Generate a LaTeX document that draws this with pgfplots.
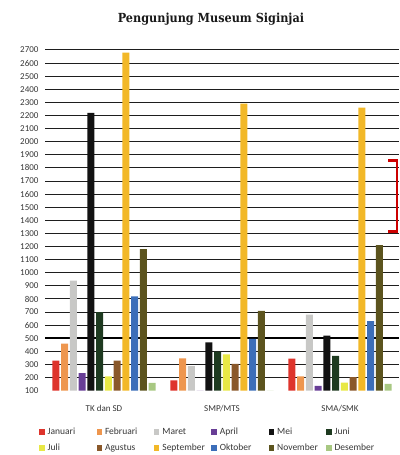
\documentclass[border=0pt]{standalone}
\usepackage{fontspec}
\setmainfont{Carlito}
\newfontfamily\titlefont{DejaVu Serif Condensed}
\usepackage{pgfplots}
\usepackage{pgfplotstable}
\pgfplotsset{compat=1.18}

\definecolor{cJan}{RGB}{222,52,44}
\definecolor{cFeb}{RGB}{238,150,78}
\definecolor{cMar}{RGB}{200,200,198}
\definecolor{cApr}{RGB}{104,62,150}
\definecolor{cMei}{RGB}{18,18,18}
\definecolor{cJun}{RGB}{30,58,32}
\definecolor{cJul}{RGB}{232,232,70}
\definecolor{cAgu}{RGB}{138,88,42}
\definecolor{cSep}{RGB}{242,184,40}
\definecolor{cOkt}{RGB}{60,110,185}
\definecolor{cNov}{RGB}{92,84,30}
\definecolor{cDes}{RGB}{168,200,130}
\definecolor{gridc}{RGB}{30,30,30}
\definecolor{labc}{RGB}{55,55,55}

% visitors per month for each school level (0 = TK dan SD, 1 = SMP/MTS, 2 = SMA/SMK)
\pgfplotstableread{
grp Jan  Feb  Mar  Apr  Mei  Jun  Jul  Agu  Sep  Okt  Nov  Des
0   330  460  940  235  2220 700  210  330  2680 820  1180 160
1   178  347  287  100  469  399  378  305  2290 495  710  100
2   344  209  680  136  520  365  162  204  2260 630  1210 152
}\visitors

\pgfplotsset{
  monthbar/.style n args={2}{ybar, bar width=7pt, bar shift={(#2-5.5)*8.75pt},
    draw=none, fill=#1,
    legend image code/.code={\fill[#1] (0pt,-2.7pt) rectangle (5.4pt,2.7pt);}},
}
\newcommand\lentry[1]{\makebox[47pt][l]{\hspace{2pt}#1}}

\begin{document}
\begin{tikzpicture}
\useasboundingbox (-45pt,-64.3pt) rectangle (354pt,390.7pt);
\begin{axis}[
  at={(0,0)}, anchor=south west,
  scale only axis, width=354pt, height=340.7pt,
  xmin=-0.5, xmax=2.5, ymin=100, ymax=2700,
  axis line style={draw=none},
  xtick={0,1,2}, xticklabels={TK dan SD, SMP/MTS, SMA/SMK},
  ytick={200,300,...,2700},
  extra y ticks={100}, extra y tick style={grid=none},
  major tick length=0pt,
  ymajorgrids, major grid style={gridc, line width=1pt},
  tick label style={font=\fontsize{9}{10}\selectfont, text=labc},
  /pgf/number format/assume math mode=true,
  /pgf/number format/1000 sep={},
  yticklabel style={xshift=-3pt},
  xticklabel style={yshift=-11pt},
  legend columns=6,
  legend cell align=left,
  legend style={at={(rel axis cs:0,0)}, anchor=north west, xshift=-6pt, yshift=-36pt,
    draw=none, fill=none, font=\fontsize{9.5}{11}\selectfont, text=labc,
    row sep=6pt, inner sep=0pt, nodes={inner sep=1pt},
    /tikz/every even column/.append style={column sep=3pt}},
]
\addplot[forget plot, sharp plot, black, line width=1.7pt] coordinates {(-0.5,500) (2.5,500)};
\addplot[monthbar={cJan}{0}]  table[x=grp, y=Jan] {\visitors};
\addplot[monthbar={cFeb}{1}]  table[x=grp, y=Feb] {\visitors};
\addplot[monthbar={cMar}{2}]  table[x=grp, y=Mar] {\visitors};
\addplot[monthbar={cApr}{3}]  table[x=grp, y=Apr] {\visitors};
\addplot[monthbar={cMei}{4}]  table[x=grp, y=Mei] {\visitors};
\addplot[monthbar={cJun}{5}]  table[x=grp, y=Jun] {\visitors};
\addplot[monthbar={cJul}{6}]  table[x=grp, y=Jul] {\visitors};
\addplot[monthbar={cAgu}{7}]  table[x=grp, y=Agu] {\visitors};
\addplot[monthbar={cSep}{8}]  table[x=grp, y=Sep] {\visitors};
\addplot[monthbar={cOkt}{9}]  table[x=grp, y=Okt] {\visitors};
\addplot[monthbar={cNov}{10}] table[x=grp, y=Nov] {\visitors};
\addplot[monthbar={cDes}{11}] table[x=grp, y=Des] {\visitors};
\legend{\lentry{Januari}, \lentry{Februari}, \lentry{Maret}, \lentry{April}, \lentry{Mei}, \hspace{2pt}Juni,
        \lentry{Juli}, \lentry{Agustus}, \lentry{September}, \lentry{Oktober}, \lentry{November}, \hspace{2pt}Desember}
\end{axis}
\node[font=\titlefont\bfseries\fontsize{12.5}{15}\selectfont, text=black!90] at (166pt,372pt)
  {Pengunjung Museum Siginjai};
\draw[red!80!black, line width=2.4pt] (343pt,230pt) -- (352pt,230pt) -- (352pt,159pt) -- (343pt,159pt);
\end{tikzpicture}
\end{document}
